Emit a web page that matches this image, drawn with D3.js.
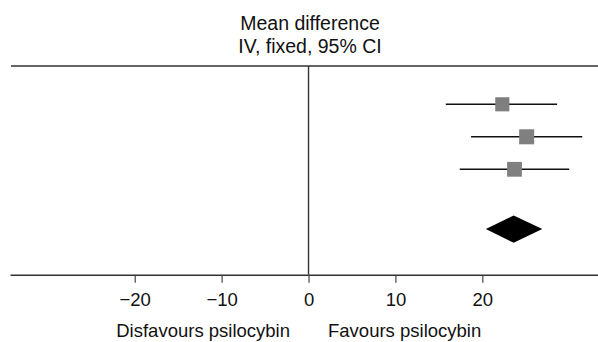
<!DOCTYPE html>
<html>
<head>
<meta charset="utf-8">
<script src="https://cdn.jsdelivr.net/npm/d3@7"></script>
<style>
  body { margin: 0; background: #fff; }
  svg { display: block; font-family: Arial, "Liberation Sans", sans-serif; }
</style>
</head>
<body>
<script>
// study rows: mean difference with 95% CI, and weight (%)
var studies = ["Study 1", "Study 2", "Study 3"];
var means = [22.3, 25.1, 23.7];
var lower = [15.8, 18.7, 17.4];
var upper = [28.6, 31.5, 30.0];
var weights = [31, 35, 34];

// pooled estimate
var pooled = {mean: 23.6, lower: 20.4, upper: 26.9};

var tickValues = [-20, -10, 0, 10, 20];
var titleLines = ["Mean difference", "IV, fixed, 95% CI"];
var leftLabel = "Disfavours psilocybin";
var rightLabel = "Favours psilocybin";

var screen = {width: 598, height: 342, top: 66, axisY: 274.7};

var svg = d3.select("body").append("svg")
  .attr("width", screen.width)
  .attr("height", screen.height);

var x = d3.scaleLinear().domain([-34.35, 33.31]).range([10, 598]);
var rowY = d3.scaleLinear().domain([1, 3]).range([104.3, 169.3]);
var size = d3.scaleSqrt().domain([0, 35]).range([0, 15]);
var pooledY = rowY(4.84);

// title
svg.selectAll("text.title")
  .data(titleLines)
  .enter().append("text")
  .attr("class", "title")
  .attr("x", 310)
  .attr("y", function (d, i) { return 30 + i * 23; })
  .attr("text-anchor", "middle")
  .style("font-size", "19.5px")
  .style("fill", "#111")
  .text(function (d) { return d; });

// top rule
svg.append("line")
  .attr("x1", 11).attr("x2", screen.width)
  .attr("y1", screen.top).attr("y2", screen.top)
  .style("stroke", "#333").style("stroke-width", 1.4);

// line of no effect
svg.append("line")
  .attr("x1", x(0)).attr("x2", x(0))
  .attr("y1", screen.top).attr("y2", screen.axisY)
  .style("stroke", "#333").style("stroke-width", 1.4);

// axis
var axis = svg.append("g")
  .attr("transform", "translate(0," + screen.axisY + ")")
  .call(d3.axisBottom(x).tickValues(tickValues).tickSize(8).tickSizeOuter(0));
axis.select(".domain").style("stroke", "#333").style("stroke-width", 1.4);
axis.selectAll(".tick line").style("stroke", "#444").style("stroke-width", 1.2);
axis.selectAll(".tick text")
  .attr("y", 31.3).attr("dy", null)
  .style("font-size", "18.5px")
  .style("font-family", "Arial, 'Liberation Sans', sans-serif")
  .style("fill", "#111");

// CI whiskers
svg.selectAll("line.ci")
  .data(studies)
  .enter().append("line")
  .attr("class", "ci")
  .attr("x1", function (d, i) { return x(lower[i]); })
  .attr("x2", function (d, i) { return x(upper[i]); })
  .attr("y1", function (d, i) { return rowY(i + 1); })
  .attr("y2", function (d, i) { return rowY(i + 1); })
  .style("stroke", "#111").style("stroke-width", 1.5);

// squares
svg.selectAll("rect.est")
  .data(studies)
  .enter().append("rect")
  .attr("class", "est")
  .attr("x", function (d, i) { return x(means[i]) - size(weights[i]) / 2; })
  .attr("y", function (d, i) { return rowY(i + 1) - size(weights[i]) / 2; })
  .attr("width", function (d, i) { return size(weights[i]); })
  .attr("height", function (d, i) { return size(weights[i]); })
  .style("fill", "#7f7f7f");

// pooled diamond
var dh = 13.7;
svg.append("path")
  .attr("d", "M" + x(pooled.lower) + "," + pooledY +
    "L" + x(pooled.mean) + "," + (pooledY - dh) +
    "L" + x(pooled.upper) + "," + pooledY +
    "L" + x(pooled.mean) + "," + (pooledY + dh) + "Z")
  .style("fill", "#000");

// direction labels
svg.append("text")
  .attr("x", x(0) - 18.5).attr("y", 337)
  .attr("text-anchor", "end")
  .style("font-size", "18.5px")
  .style("fill", "#111")
  .text(leftLabel);
svg.append("text")
  .attr("x", x(0) + 19.5).attr("y", 337)
  .attr("text-anchor", "start")
  .style("font-size", "18.5px")
  .style("fill", "#111")
  .text(rightLabel);
</script>
</body>
</html>
